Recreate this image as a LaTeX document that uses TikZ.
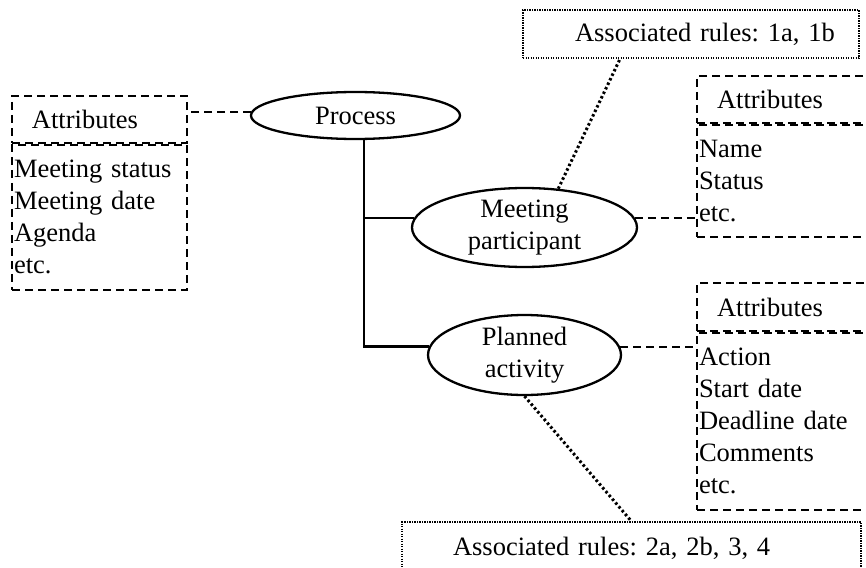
\documentclass[tikz,border=0pt]{standalone}
\usepackage{fontspec}
\setmainfont{Liberation Serif}
\frenchspacing
\usetikzlibrary{shapes.geometric,positioning,calc}

\begin{document}
\begin{tikzpicture}[
  x=1pt, y=-1pt,
  font=\fontsize{26.5}{32}\selectfont,
  ent/.style={ellipse, draw, line width=2.3pt, inner sep=0pt, align=center},
  hbox/.style={rectangle, draw, line width=1.8pt, dash pattern=on 8pt off 5pt,
    inner xsep=3pt, inner ysep=0pt, minimum height=47pt, text width=177pt, align=left},
  bbox/.style={hbox, inner xsep=2pt, text width=179pt},
  rbox/.style={rectangle, draw, line width=1.2pt, dash pattern=on 1.2pt off 1.3pt,
    inner xsep=3pt, inner ysep=0pt, align=left},
  dsh/.style={line width=1.8pt, dash pattern=on 8pt off 5pt},
  dot/.style={line width=3pt, dash pattern=on 2.5pt off 2.5pt},
  tree/.style={line width=2.3pt},
]
  \clip (0,0) rectangle (866,567);

  % entities
  \node[ent, minimum width=209pt, minimum height=47pt] (process) at (355.5,115.5) {Process};
  \node[ent, minimum width=225pt, minimum height=79pt] (mp) at (524.5,227.5) {Meeting\\participant};
  \node[ent, minimum width=193pt, minimum height=80pt] (pa) at (524.5,355) {Planned\\activity};

  % attribute boxes
  \node[hbox, text width=169pt] (procattrh) at (99.5,119.5) {\hspace*{17pt}Attributes};
  \node[bbox, text width=171pt, minimum height=145pt, below=0pt of procattrh] (procattr)
    {Meeting status\\Meeting date\\Agenda\\etc.};
  \node[hbox] (mpattrh) at (788.5,99.5) {\hspace*{17pt}Attributes};
  \node[bbox, minimum height=112pt, below=0pt of mpattrh] (mpattr) {Name\\Status\\etc.};
  \node[hbox, minimum height=48pt] (paattrh) at (788.5,307) {\hspace*{17pt}Attributes};
  \node[bbox, minimum height=177pt, below=0pt of paattrh] (paattr)
    {Action\\Start date\\Deadline date\\Comments\\etc.};

  % rules
  \node[rbox, minimum height=48pt, text width=330pt] (rules1) at (691,34)
    {\hspace*{49pt}Associated rules: 1a, 1b};
  \node[rbox, minimum height=53pt, text width=453pt] (rules2) at (631.5,548.5)
    {\hspace*{48pt}Associated rules: 2a, 2b, 3, 4};

  % tree
  \coordinate (trunk) at ([xshift=8.5pt]process.south);
  \draw[tree] (trunk) |- (pa.175);
  \draw[tree] (mp.175) -- (mp.175 -| trunk);

  % attribute links
  \draw[dsh] (process.178) -- (process.178 -| procattrh.east);
  \draw[dsh] (mp.5) -- (mp.5 -| mpattr.west);
  \draw[dsh] (pa.5) -- (pa.5 -| paattr.west);

  % rule links
  \draw[dot] (mp.49) -- ($(rules1.south west)!0.29!(rules1.south east)$);
  \draw[dot] (pa.south) -- (rules2.north);
\end{tikzpicture}
\end{document}
